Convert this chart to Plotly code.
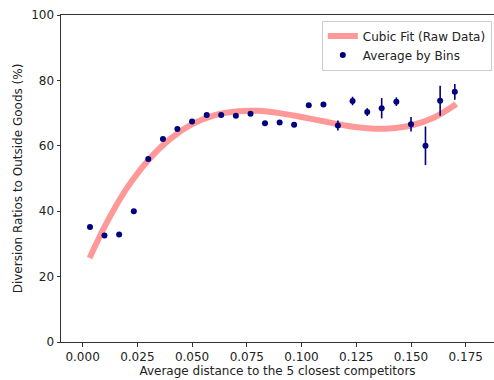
import plotly.graph_objects as go

# Binned averages
bin_x = [0.0034, 0.0100, 0.0167, 0.0234, 0.0300, 0.0367, 0.0433, 0.0500, 0.0567,
         0.0633, 0.0700, 0.0767, 0.0833, 0.0900, 0.0966, 0.1033, 0.1100, 0.1166,
         0.1233, 0.1300, 0.1366, 0.1433, 0.1500, 0.1566, 0.1633, 0.1700]
bin_y = [35.2, 32.6, 32.9, 40.0, 56.0, 62.1, 65.1, 67.4, 69.4, 69.4, 69.2, 69.8,
         66.9, 67.1, 66.4, 72.4, 72.6, 66.2, 73.7, 70.3, 71.5, 73.5, 66.6, 60.0,
         73.8, 76.5]
bin_err = [0.4, 0.4, 0.4, 0.4, 0.4, 0.4, 0.4, 0.4, 0.4, 0.4, 0.4, 0.4, 0.4, 0.5,
           0.5, 0.6, 0.6, 1.5, 1.3, 1.2, 3.1, 1.3, 2.2, 5.9, 4.6, 2.4]

# Cubic fit curve
fit_x = [0.0032, 0.01, 0.02, 0.03, 0.04, 0.05, 0.06, 0.07, 0.08, 0.09,
         0.10, 0.11, 0.12, 0.13, 0.14, 0.15, 0.16, 0.17, 0.1706]
fit_y = [25.7, 35.2, 46.8, 55.6, 62.1, 66.6, 69.3, 70.5, 70.7, 70.0,
         68.8, 67.5, 66.2, 65.4, 65.3, 66.2, 68.5, 72.5, 72.8]

x_ticks = [0.000, 0.025, 0.050, 0.075, 0.100, 0.125, 0.150, 0.175]
y_ticks = [0, 20, 40, 60, 80, 100]

FONT = "DejaVu Sans"
FS = 12

fig = go.Figure()
fig.add_trace(go.Scatter(
    x=fit_x, y=fit_y, mode="lines", name="Cubic Fit (Raw Data)",
    line=dict(color="rgb(255,153,153)", width=6, shape="spline", smoothing=0.8),
))
fig.add_trace(go.Scatter(
    x=bin_x, y=bin_y, mode="markers", name="Average by Bins",
    marker=dict(color="#000080", size=6),
    error_y=dict(type="data", array=bin_err, color="#000080", thickness=1.6, width=0),
))

fig.update_layout(
    width=494, height=380,
    margin=dict(l=61, r=0, t=15, b=38),
    paper_bgcolor="white", plot_bgcolor="white",
    font=dict(family=FONT, size=FS, color="#222222"),
    showlegend=True,
    legend=dict(x=0.995, y=0.983, xanchor="right", yanchor="top",
                bgcolor="white", bordercolor="#cccccc", borderwidth=1,
                font=dict(family=FONT, size=FS), tracegroupgap=0,
                itemwidth=30),
    xaxis=dict(range=[-0.00986, 0.1879], tickvals=x_ticks, tickformat=".3f",
               showgrid=False, zeroline=False, showline=True, linecolor="#333333",
               linewidth=1, mirror=True, ticks="outside", ticklen=3.5,
               tickcolor="#333333",
               title=dict(text="Average distance to the 5 closest competitors",
                          standoff=3, font=dict(size=FS))),
    yaxis=dict(range=[0, 100], tickvals=y_ticks, showgrid=False, zeroline=False,
               showline=True, linecolor="#333333", linewidth=1, ticks="outside",
               ticklen=3.5, tickcolor="#333333",
               title=dict(text="Diversion Ratios to Outside Goods (%)",
                          standoff=5, font=dict(size=FS))),
)

fig.write_html("out.html", config={"displayModeBar": False},
               post_script="document.body.style.margin='0';document.body.style.overflow='hidden';")
